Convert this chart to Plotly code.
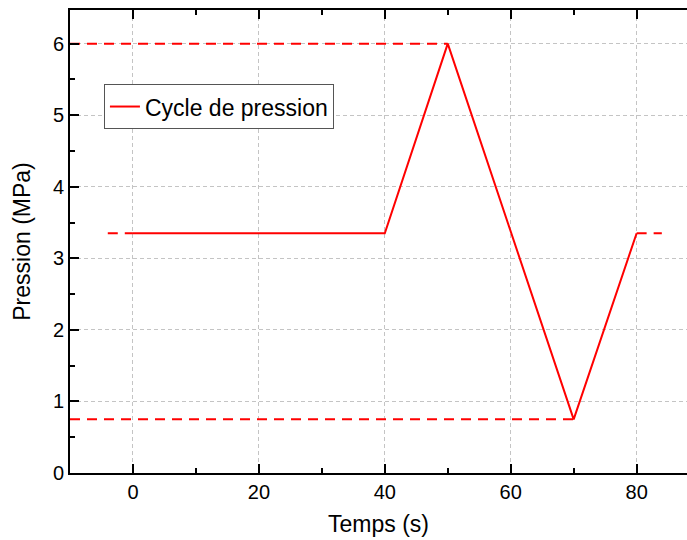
import plotly.graph_objects as go

# Data
temps = [0, 40, 50, 70, 80]
pression = [3.35, 3.35, 6.0, 0.75, 3.35]

ref_mid_x = [-4, 0, None, 80, 84]
ref_mid_y = [3.35, 3.35, None, 3.35, 3.35]
ref_max_x = [-10, 50]
ref_max_y = [6.0, 6.0]
ref_min_x = [-10, 70]
ref_min_y = [0.75, 0.75]

x_ticks = [0, 20, 40, 60, 80]
y_ticks = [0, 1, 2, 3, 4, 5, 6]

RED = "#ff0000"
FONT = "Liberation Sans, Arial, sans-serif"

fig = go.Figure()
for xs, ys in [(ref_max_x, ref_max_y), (ref_min_x, ref_min_y), (ref_mid_x, ref_mid_y)]:
    fig.add_trace(go.Scatter(x=xs, y=ys, mode="lines", showlegend=False,
                             line=dict(color=RED, width=2, dash="10px,7px"),
                             hoverinfo="skip"))
fig.add_trace(go.Scatter(x=temps, y=pression, mode="lines", name="Cycle de pression",
                         line=dict(color=RED, width=2)))

axis_common = dict(
    showline=True, linecolor="black", linewidth=2,
    ticks="inside", ticklen=9, tickwidth=2, tickcolor="black",
    showgrid=True, gridcolor="#c4c4c4", gridwidth=1, griddash="4px,3px",
    zeroline=False,
    tickfont=dict(family=FONT, size=20, color="black"),
)

fig.update_xaxes(
    range=[-10, 88], tickvals=x_ticks, mirror="ticks",
    minor=dict(dtick=10, tick0=0, ticks="inside", ticklen=5, tickwidth=2, tickcolor="black", showgrid=False),
    title=dict(text="Temps (s)", font=dict(family=FONT, size=23, color="black"), standoff=14),
    **axis_common,
)
fig.update_yaxes(
    range=[0, 6.47], tickvals=y_ticks,
    minor=dict(dtick=0.5, tick0=0, ticks="inside", ticklen=5, tickwidth=2, tickcolor="black", showgrid=False),
    title=dict(text="Pression (MPa)", font=dict(family=FONT, size=23, color="black"), standoff=16),
    **axis_common,
)

fig.update_layout(
    width=687, height=540,
    margin=dict(l=70, r=0, t=10, b=67),
    plot_bgcolor="white", paper_bgcolor="white",
    font=dict(family=FONT, color="black"),
    legend=dict(x=0.055, y=0.84, xanchor="left", yanchor="top",
                bgcolor="white", bordercolor="#555555", borderwidth=1,
                font=dict(family=FONT, size=23, color="black"),
                tracegroupgap=0),
)

fig.write_html("out.html")
